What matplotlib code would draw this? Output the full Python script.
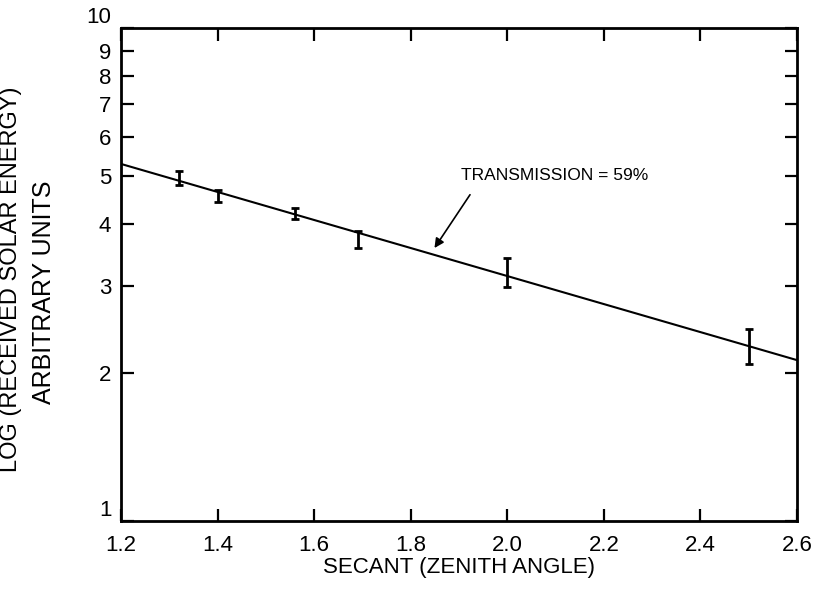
import numpy as np
import matplotlib.pyplot as plt

plt.rcParams['font.family'] = ['Liberation Sans', 'DejaVu Sans']

# measured points: secant of zenith angle and error bar ends
secant = [1.32, 1.40, 1.56, 1.69, 2.00, 2.50]
energy_lo = [4.81, 4.43, 4.10, 3.58, 2.99, 2.08]
energy_hi = [5.13, 4.69, 4.31, 3.88, 3.42, 2.45]

# fitted line end points
fit_x = [1.2, 2.6]
fit_y = [5.30, 2.12]

xticks = [1.2, 1.4, 1.6, 1.8, 2.0, 2.2, 2.4, 2.6]
xticklabels = ['1.2', '1.4', '1.6', '1.8', '2.0', '2.2', '2.4', '2.6']
yticks = [1, 2, 3, 4, 5, 6, 7, 8, 9, 10]
yticklabels = ['1', '2', '3', '4', '5', '6', '7', '8', '9', '10']

annot_text = 'TRANSMISSION = 59%'
annot_xy = (1.846, 3.54)
annot_tail = (1.926, 4.64)
annot_pos = (1.905, 5.02)

lo = np.array(energy_lo)
hi = np.array(energy_hi)
mid = (lo + hi) / 2.

fig = plt.figure(figsize=(8.16, 6.01), dpi=100)
ax = fig.add_axes([0.1483, 0.1331, 0.8284, 0.8203])

ax.plot(fit_x, fit_y, color='black', lw=1.5)
ax.errorbar(secant, mid, yerr=[mid - lo, hi - mid], fmt='none',
            ecolor='black', elinewidth=2, capsize=3, capthick=2)

ax.set_yscale('log')
ax.set_xlim(1.2, 2.6)
ax.set_ylim(1, 10)
ax.set_xticks(xticks)
ax.set_xticklabels(xticklabels)
ax.set_yticks(yticks)
ax.set_yticklabels(yticklabels)
ax.yaxis.set_minor_locator(plt.NullLocator())

ax.tick_params(axis='both', which='both', direction='in', length=9, width=1.6,
               top=True, right=True, labelsize=16, colors='black')
ax.tick_params(axis='x', pad=10)
ax.tick_params(axis='y', pad=7)
for sp in ax.spines.values():
    sp.set_linewidth(2)

# the end labels 1 and 10 sit a little above their ticks
ylabs = ax.get_yticklabels()
ylabs[0].set_verticalalignment('bottom')
ylabs[-1].set_verticalalignment('bottom')

ax.text(annot_pos[0], annot_pos[1], annot_text, ha='left', va='center', fontsize=12.5)
ax.annotate('', xy=annot_xy, xytext=annot_tail,
            arrowprops=dict(arrowstyle='-|>', color='black', lw=1.2,
                            mutation_scale=14))

fig.text(0.5627, 0.056, 'SECANT (ZENITH ANGLE)', ha='center', va='center', fontsize=16)
fig.text(0.013, 1 - 279 / 601., 'LOG (RECEIVED SOLAR ENERGY)', rotation=90,
         ha='center', va='center', fontsize=17)
fig.text(0.054, 1 - 292 / 601., 'ARBITRARY UNITS', rotation=90,
         ha='center', va='center', fontsize=18)

plt.savefig('out.png', dpi=100)
